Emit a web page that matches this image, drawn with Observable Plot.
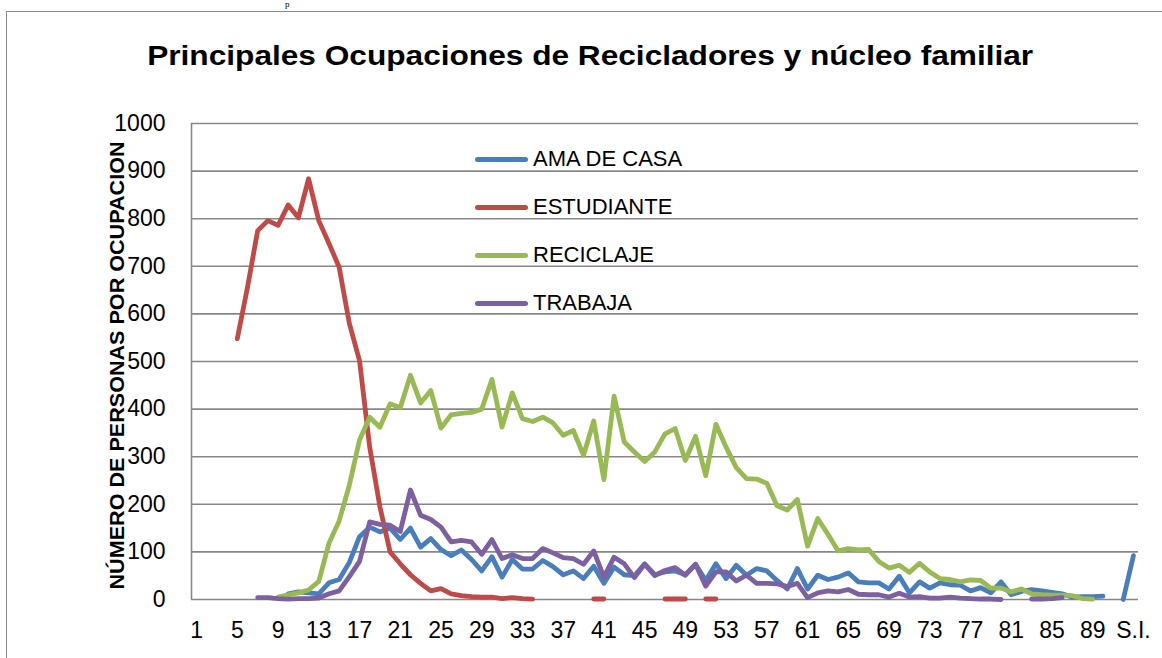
<!DOCTYPE html>
<html>
<head>
<meta charset="utf-8">
<script src="https://cdn.jsdelivr.net/npm/d3@7"></script>
<script src="https://cdn.jsdelivr.net/npm/@observablehq/plot@0.6"></script>
<style>
  body { margin: 0; background: #fff; }
  #wrap { position: relative; width: 1162px; height: 658px; overflow: hidden; font-family: "Liberation Sans", Arial, sans-serif; }
  #frame { position: absolute; left: 6px; top: 11px; width: 1200px; height: 700px; border: 1.5px solid #8a8a8a; box-sizing: border-box; }
  #frag { position: absolute; left: 285px; top: 0px; font-family: "Liberation Serif", serif; font-size: 9px; line-height: 9px; color: #000; }
  #title { position: absolute; left: 9px; width: 1162px; top: 42px; text-align: center; font-size: 28px; line-height: 28px; font-weight: bold; color: #000; }
  #title span { display: inline-block; transform-origin: 50% 50%; white-space: nowrap; }
  #chart { position: absolute; left: 0; top: 0; }
  .leg { position: absolute; left: 475px; height: 22px; }
  .leg .sw { position: absolute; left: 0; top: 8.5px; width: 53px; height: 5px; border-radius: 3px; }
  .leg .lb { position: absolute; left: 58px; top: 0; font-size: 22px; line-height: 22px; white-space: nowrap; color: #000; }
</style>
</head>
<body>
<div id="wrap">
  <div id="frame"></div>
  <div id="frag">p</div>
  <div id="chart"></div>
  <div id="title"><span>Principales Ocupaciones de Recicladores y núcleo familiar</span></div>
  <div id="legend"></div>
</div>
<script>
// Categories (age) and tick labels
const cats = [];
for (let i = 1; i <= 92; i++) cats.push(String(i));
cats.push("S.I.");
const xTicks = ["1","5","9","13","17","21","25","29","33","37","41","45","49","53","57","61","65","69","73","77","81","85","89","S.I."];
const yTicks = [0,100,200,300,400,500,600,700,800,900,1000];

const seriesNames = ["AMA DE CASA", "ESTUDIANTE", "RECICLAJE", "TRABAJA"];
const seriesColors = ["#4a7ebb", "#be4b48", "#98b954", "#7d60a0"];

const N = null;
// values for categories 1..92 then S.I.
const amaDeCasa = [
  N,N,N,N,N,N,N,N,N,12,
  16,14,12,35,42,78,132,152,142,150,
  126,150,110,128,105,92,104,84,60,90,
  47,84,64,64,82,69,52,60,44,70,
  34,68,52,50,75,52,58,60,52,74,
  40,75,44,72,51,65,60,40,22,65,
  22,51,42,47,56,37,35,35,22,49,
  14,37,24,35,31,30,18,25,14,37,
  10,17,21,18,15,12,5,6,6,7,
  N,0,92
];
const estudiante = [
  N,N,N,N,548,656,775,796,786,829,
  802,884,796,748,698,580,502,320,195,100,
  75,52,34,18,23,12,8,6,5,5,
  2,4,2,1,N,N,N,N,N,1,
  1,N,N,N,N,N,1,1,1,N,
  1,1,N,N,N,N,N,N,N,N,
  N,N,N,N,N,N,N,N,N,N,
  N,N,N,N,N,N,N,N,N,N,
  N,N,N,N,N,N,N,N,N,N,
  N,N,N
];
const reciclaje = [
  N,N,N,N,N,N,N,N,5,10,
  14,20,38,118,165,240,335,383,362,411,
  403,471,413,439,360,388,391,393,400,462,
  362,434,380,374,383,371,345,355,303,375,
  252,427,331,310,290,310,348,359,292,343,
  260,368,320,277,254,253,244,197,188,210,
  112,170,137,102,107,104,105,80,66,72,
  57,76,58,44,42,37,41,40,24,24,
  16,22,12,10,9,9,8,2,1,N,
  N,N,N
];
const trabaja = [
  N,N,N,N,N,N,4,4,2,1,
  2,2,3,12,18,48,80,163,158,156,
  143,230,177,168,152,121,124,121,95,126,
  86,94,86,86,107,98,88,86,74,102,
  47,89,75,46,74,50,61,67,51,74,
  28,58,58,39,51,34,34,33,27,34,
  4,14,18,16,21,11,10,10,5,13,
  5,6,3,3,5,3,2,1,1,0,
  N,N,1,1,2,4,N,N,N,N,
  N,N,N
];
const yLabel = "NÚMERO DE PERSONAS POR OCUPACION";

const seriesValues = [amaDeCasa, estudiante, reciclaje, trabaja];
const rows = [];
seriesNames.forEach((s, si) => {
  cats.forEach((c, i) => rows.push({cat: c, series: s, value: seriesValues[si][i]}));
});

const plotW = 1162 - 191 - 24;
const chart = Plot.plot({
  width: 1162,
  height: 658,
  marginLeft: 191,
  marginRight: 24,
  marginTop: 123,
  marginBottom: 59,
  style: {fontFamily: "'Liberation Sans', Arial, sans-serif", fontSize: "23px", color: "#000", background: "transparent", overflow: "visible"},
  x: {type: "point", domain: cats, padding: 0.5, round: false, label: null},
  y: {domain: [0, 1000], label: null},
  color: {domain: seriesNames, range: seriesColors},
  marks: [
    Plot.ruleY(yTicks, {stroke: "#878787", strokeWidth: 1.6}),
    Plot.ruleX([cats[0]], {dx: -plotW / cats.length / 2, stroke: "#878787", strokeWidth: 1.6}),
    Plot.axisY(yTicks, {tickSize: 0, tickPadding: 26, fontSize: 23, label: null, tickFormat: d => String(d)}),
    Plot.axisX(xTicks, {tickSize: 0, tickPadding: 22, fontSize: 23, label: null}),
    Plot.line(rows, {x: "cat", y: "value", z: "series", stroke: "series", strokeWidth: 4.8, strokeLinejoin: "round", strokeLinecap: "round"}),
    Plot.text([yLabel], {frameAnchor: "left", textAnchor: "middle", rotate: -90, dx: -74, dy: 4, fontWeight: "bold", fontSize: 19.5, text: d => d, fill: "#000"})
  ]
});
document.getElementById("chart").appendChild(chart);

// fit y label length
const yl = chart.querySelector('g[aria-label="text"] text');
if (yl) { yl.setAttribute("textLength", 448); yl.setAttribute("lengthAdjust", "spacingAndGlyphs"); }

// title width fit
const ts = document.querySelector("#title span");
const tw = ts.getBoundingClientRect().width;
ts.style.transform = `scaleX(${886 / tw})`;

// legend
const legend = document.getElementById("legend");
const legTops = [148, 196, 244, 292];
seriesNames.forEach((s, i) => {
  const d = document.createElement("div");
  d.className = "leg";
  d.style.top = legTops[i] + "px";
  d.innerHTML = `<div class="sw" style="background:${seriesColors[i]}"></div><div class="lb">${s}</div>`;
  legend.appendChild(d);
});
</script>
</body>
</html>
